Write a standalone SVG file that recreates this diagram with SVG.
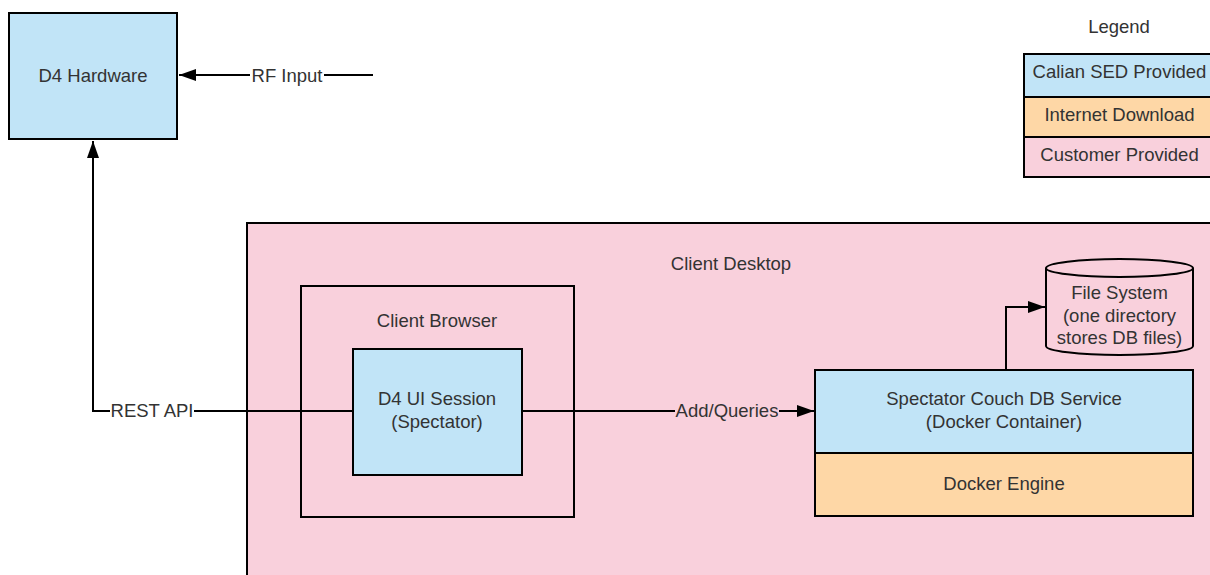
<svg xmlns="http://www.w3.org/2000/svg" width="1210" height="575" viewBox="0 0 1210 575">
<style>
.box{stroke:#000;stroke-width:2}
.blue{fill:#c1e4f7}
.orange{fill:#fed7a6}
.pink{fill:#f9d0dc}
.none{fill:none}
text{font-family:"Liberation Sans",Arial,sans-serif;font-size:18.5px;fill:#333;text-anchor:middle}
.conn{stroke:#000;stroke-width:2;fill:none}
</style>
<defs>
<marker id="arr" viewBox="0 0 17 12" refX="17" refY="6" markerWidth="17" markerHeight="12" markerUnits="userSpaceOnUse" orient="auto">
<path d="M0,0 L17,6 L0,12 Z" fill="#000"/>
</marker>
</defs>
<rect width="1210" height="575" fill="#fff"/>

<g id="client-desktop">
<rect class="box pink" x="247" y="223" width="970" height="360"/>
<text x="731" y="270">Client Desktop</text>
</g>

<g id="client-browser">
<rect class="box none" x="301" y="286" width="273" height="231"/>
<text x="437" y="327">Client Browser</text>
</g>

<g id="d4-hardware">
<rect class="box blue" x="9" y="13" width="168" height="126"/>
<text x="93" y="81.5">D4 Hardware</text>
</g>

<g id="d4-ui-session">
<rect class="box blue" x="353" y="349" width="169" height="126"/>
<text x="437" y="405">D4 UI Session</text>
<text x="437" y="428">(Spectator)</text>
</g>

<g id="couchdb-service">
<rect class="box blue" x="815" y="370" width="378" height="83"/>
<text x="1004" y="404.5">Spectator Couch DB Service</text>
<text x="1004" y="427.5">(Docker Container)</text>
</g>

<g id="docker-engine">
<rect class="box orange" x="815" y="453" width="378" height="63"/>
<text x="1004" y="489.5">Docker Engine</text>
</g>

<g id="file-system">
<path class="box pink" d="M1046,268 L1046,346 A73.5,9 0 0 0 1193,346 L1193,268"/>
<ellipse class="box pink" cx="1119.5" cy="268" rx="73.5" ry="9"/>
<text x="1119.5" y="299">File System</text>
<text x="1119.5" y="321.5">(one directory</text>
<text x="1119.5" y="343.5">stores DB files)</text>
</g>

<g id="legend">
<text x="1119" y="32.5">Legend</text>
<rect class="box blue" x="1024" y="54" width="192" height="43"/>
<rect class="box orange" x="1024" y="97" width="192" height="40"/>
<rect class="box pink" x="1024" y="137" width="192" height="40"/>
<text x="1119.5" y="78">Calian SED Provided</text>
<text x="1119.5" y="120.5">Internet Download</text>
<text x="1119.5" y="160.5">Customer Provided</text>
</g>

<g id="connectors">
<path class="conn" d="M373,75 L179,75" marker-end="url(#arr)"/>
<rect x="250" y="64" width="74" height="22" fill="#fff"/>
<text x="287" y="81.5">RF Input</text>

<path class="conn" d="M353,411 L93,411 L93,141" marker-end="url(#arr)"/>
<rect x="110" y="400" width="84" height="22" fill="#fff"/>
<text x="152" y="416.5">REST API</text>

<path class="conn" d="M522,411 L814,411" marker-end="url(#arr)"/>
<rect x="675" y="400" width="104" height="22" fill="#f9d0dc"/>
<text x="727" y="416.5">Add/Queries</text>

<path class="conn" d="M1006,370 L1006,307 L1045,307" marker-end="url(#arr)"/>
</g>
</svg>
